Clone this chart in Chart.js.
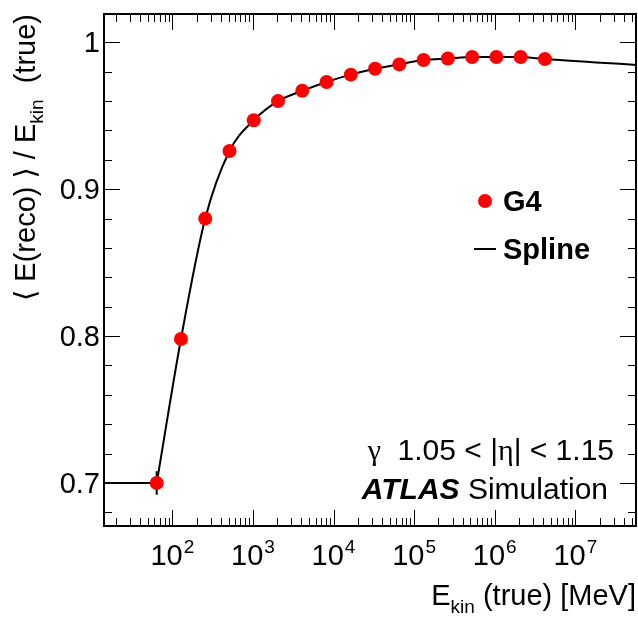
<!DOCTYPE html>
<html>
<head>
<meta charset="utf-8">
<script src="https://cdn.jsdelivr.net/npm/chart.js@4.4.0/dist/chart.umd.min.js"></script>
<style>
    html, body { margin: 0; padding: 0; background: #fff; }
    canvas { display: block; }
</style>
</head>
<body>
<canvas id="resp" width="638" height="617"></canvas>
<script>
// G4 samples: kinetic energy (MeV) and mean reco/true response
const energies = [64, 128, 256, 512, 1024, 2048, 4096, 8192, 16384, 32768, 65536,
    131072, 262144, 524288, 1048576, 2097152, 4194304];
const g4Response = [0.700, 0.798, 0.880, 0.926, 0.947, 0.960, 0.967, 0.973, 0.978,
    0.982, 0.985, 0.988, 0.989, 0.990, 0.990, 0.990, 0.9886];
const g4Errors = [0.008, 0.002, 0.002, 0.001, 0.001, 0.001, 0.001, 0.001, 0.001,
    0.001, 0.001, 0.001, 0.001, 0.001, 0.001, 0.001, 0.001];

// spline: flat below the first sample, tail out to the axis end
const splineFlatY = 0.7;
const splineTailX = 5.66e7;
const splineTailY = 0.9846;

// axes
const xRange = [14.2, 5.66e7];
const yRange = [0.6707, 1.0193];
const yMajorTicks = [0.7, 0.8, 0.9, 1.0];
const yMinorStep = 0.02;
const xMajorExps = [2, 3, 4, 5, 6, 7];

const SANS = '"Liberation Sans", Arial, "DejaVu Sans", sans-serif';
const SERIF = '"Liberation Serif", "DejaVu Serif", serif';

const line = (ctx, x1, y1, x2, y2) => {
    ctx.beginPath();
    ctx.moveTo(x1, y1);
    ctx.lineTo(x2, y2);
    ctx.stroke();
};

// draw a run of [text, font, dy] pieces starting at x
const drawRun = (ctx, pieces, x, y) => {
    pieces.forEach(([t, f, dy]) => {
        ctx.font = f;
        ctx.fillText(t, x, y + (dy || 0));
        x += ctx.measureText(t).width;
    });
    return x;
};
const runWidth = (ctx, pieces) => pieces.reduce((w, [t, f]) => {
    ctx.font = f;
    return w + ctx.measureText(t).width;
}, 0);

const errorBars = {
    id: "errorBars",
    beforeDatasetsDraw(chart) {
        const { ctx, scales: { x, y } } = chart;
        ctx.save();
        ctx.strokeStyle = "#000";
        ctx.lineWidth = 2;
        energies.forEach((e, i) => {
            const px = x.getPixelForValue(e);
            line(ctx, px, y.getPixelForValue(g4Response[i] - g4Errors[i]),
                px, y.getPixelForValue(g4Response[i] + g4Errors[i]));
        });
        ctx.restore();
    },
};

const frame = {
    id: "frame",
    beforeDraw(chart) {
        const { ctx, width, height } = chart;
        ctx.save();
        ctx.fillStyle = "#fff";
        ctx.fillRect(0, 0, width, height);
        ctx.restore();
    },
    afterDraw(chart) {
        const { ctx, chartArea: a, scales: { x, y } } = chart;
        ctx.save();
        ctx.strokeStyle = "#000";
        ctx.fillStyle = "#000";
        ctx.lineWidth = 1;

        // x ticks, bottom and top
        for (let k = 1; k <= 7; k++) {
            for (let m = 1; m <= 9; m++) {
                const v = m * Math.pow(10, k);
                if (v < xRange[0] || v > xRange[1]) continue;
                const px = Math.round(x.getPixelForValue(v)) + 0.5;
                const len = m === 1 ? 16 : 8;
                line(ctx, px, a.bottom, px, a.bottom - len);
                line(ctx, px, a.top, px, a.top + len);
            }
        }
        // y ticks, left and right
        for (let v = Math.ceil(yRange[0] / yMinorStep) * yMinorStep; v <= yRange[1]; v += yMinorStep) {
            const major = yMajorTicks.some((t) => Math.abs(t - v) < 1e-6);
            const py = Math.round(y.getPixelForValue(v)) + 0.5;
            const len = major ? 16 : 8;
            line(ctx, a.left, py, a.left + len, py);
            line(ctx, a.right, py, a.right - len, py);
        }
        ctx.lineWidth = 2;
        ctx.strokeRect(a.left, a.top, a.right - a.left, a.bottom - a.top);

        // y tick labels
        ctx.textBaseline = "alphabetic";
        ctx.textAlign = "right";
        ctx.font = `29px ${SANS}`;
        yMajorTicks.forEach((t) => {
            ctx.fillText(String(t), a.left - 4, y.getPixelForValue(t) + 10);
        });

        // x tick labels 10^n
        ctx.textAlign = "left";
        xMajorExps.forEach((n) => {
            const base = `29px ${SANS}`;
            const sup = `19px ${SANS}`;
            ctx.font = base;
            const wBase = ctx.measureText("10").width;
            ctx.font = sup;
            const wSup = ctx.measureText(String(n)).width;
            const sx = x.getPixelForValue(Math.pow(10, n)) - (wBase + 1 + wSup) / 2;
            ctx.fillText(String(n), sx + wBase + 1, a.bottom + 27);
            ctx.font = base;
            ctx.fillText("10", sx, a.bottom + 39);
        });

        // x title
        const xTitle = [["E", `29px ${SANS}`, 0], ["kin", `19px ${SANS}`, 8],
            [" (true) [MeV]", `29px ${SANS}`, 0]];
        drawRun(ctx, xTitle, a.right - runWidth(ctx, xTitle), 605);

        // y title, rotated
        const yTitle = [["\u27E8 E(reco) \u27E9 / E", `29px ${SANS}`, 0], ["kin", `19px ${SANS}`, 8],
            ["  (true)", `29px ${SANS}`, 0]];
        ctx.save();
        ctx.translate(35, a.top);
        ctx.rotate(-Math.PI / 2);
        drawRun(ctx, yTitle, -runWidth(ctx, yTitle), 0);
        ctx.restore();

        // legend
        ctx.fillStyle = "#ff0000";
        ctx.beginPath();
        ctx.arc(485, 201, 7, 0, Math.PI * 2);
        ctx.fill();
        ctx.lineWidth = 2;
        line(ctx, 474, 249, 496, 249);
        ctx.fillStyle = "#000";
        ctx.font = `bold 29px ${SANS}`;
        ctx.fillText("G4", 503, 211);
        ctx.fillText("Spline", 503, 259);

        // labels
        const etaLine = [["\u03B3", `30px ${SERIF}`, 0], ["  1.05 < |", `30px ${SANS}`, 0],
            ["\u03B7", `30px ${SERIF}`, 0], ["| < 1.15", `30px ${SANS}`, 0]];
        drawRun(ctx, etaLine, 614 - runWidth(ctx, etaLine), 460);
        const atlas = [["ATLAS", `bold italic 30px ${SANS}`, 0], [" Simulation", `30px ${SANS}`, 0]];
        drawRun(ctx, atlas, 608 - runWidth(ctx, atlas), 499);
        ctx.restore();
    },
};

const g4Points = energies.map((e, i) => ({ x: e, y: g4Response[i] }));
const splinePoints = [...g4Points, { x: splineTailX, y: splineTailY }];
const flatPoints = [{ x: xRange[0], y: splineFlatY }, { x: energies[0], y: splineFlatY }];

new Chart(document.getElementById("resp"), {
    type: "line",
    data: {
        datasets: [
            {
                label: "G4",
                data: g4Points,
                showLine: false,
                pointRadius: 7,
                pointBackgroundColor: "#ff0000",
                pointBorderWidth: 0,
                order: 0,
            },
            {
                label: "Spline",
                data: splinePoints,
                borderColor: "#000",
                borderWidth: 2,
                pointRadius: 0,
                cubicInterpolationMode: "monotone",
                fill: false,
                order: 1,
            },
            {
                label: "Spline (flat)",
                data: flatPoints,
                borderColor: "#000",
                borderWidth: 2,
                pointRadius: 0,
                tension: 0,
                fill: false,
                order: 2,
            },
        ],
    },
    options: {
        responsive: false,
        animation: false,
        events: [],
        layout: { autoPadding: false, padding: { left: 104, top: 14, right: 2, bottom: 91 } },
        plugins: { legend: { display: false }, tooltip: { enabled: false } },
        scales: {
            x: { type: "logarithmic", min: xRange[0], max: xRange[1], display: false },
            y: { type: "linear", min: yRange[0], max: yRange[1], display: false },
        },
    },
    plugins: [errorBars, frame],
});
</script>
</body>
</html>
